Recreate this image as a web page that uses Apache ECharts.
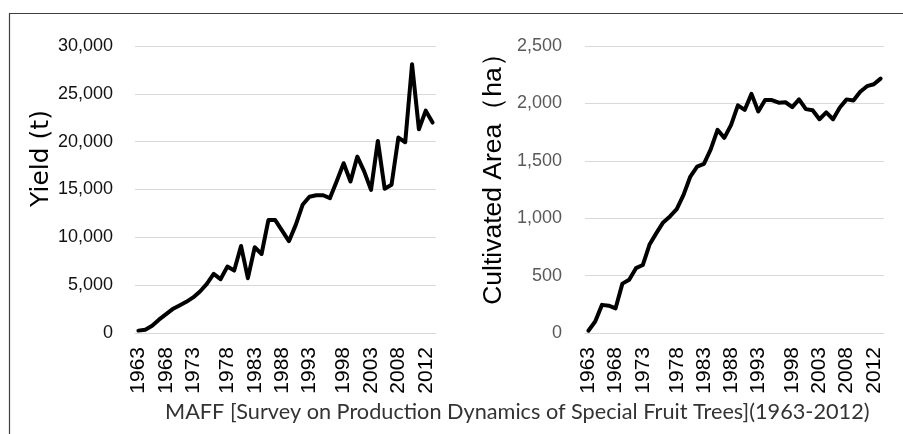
<!DOCTYPE html>
<html>
<head>
<meta charset="utf-8">
<script src="https://cdn.jsdelivr.net/npm/echarts@6/dist/echarts.min.js"></script>
<style>
html,body{margin:0;padding:0;background:#fff;}
#chart{width:903px;height:434px;}
</style>
</head>
<body>
<div id="chart"></div>
<script>
// Point order (survey points, evenly spaced on the category axis)
const pointIndex = Array.from({length: 44}, (_, i) => String(i + 1));
// Tick labels and the point positions they sit at
const tickLabels = ['1963','1968','1973','1978','1983','1988','1993','1998','2003','2008','2012'];
const tickIndex = [0, 4, 8, 13, 17, 21, 25, 30, 34, 38, 42];
// Yield (t)
const yieldValues = [250,350,760,1390,1940,2500,2880,3260,3720,4340,5140,6180,5625,6940,6530,9100,5730,8960,8260,11800,11800,10700,9600,11300,13400,14250,14400,14400,14100,15900,17750,15830,18440,16900,14960,20080,15070,15490,20430,19940,28100,21300,23240,22000];
// Cultivated area (ha)
const areaValues = [20,100,245,238,215,430,464,565,592,770,870,963,1015,1079,1203,1363,1450,1473,1600,1770,1700,1813,1983,1943,2083,1930,2029,2029,2006,2010,1968,2035,1950,1940,1862,1922,1862,1965,2035,2025,2101,2150,2167,2216];
const sourceText = 'MAFF [Survey on Production Dynamics of Special Fruit Trees](1963-2012)';

const chart = echarts.init(document.getElementById('chart'), null, {renderer: 'canvas'});

function xAxisFor(gridIndex) {
  return {
    type: 'category', gridIndex, data: pointIndex, boundaryGap: true,
    axisLine: {show: true, lineStyle: {color: '#d9d9d9', width: 1}},
    axisTick: {show: false},
    axisLabel: {
      rotate: 90, margin: 14, color: '#000',
      fontFamily: 'Liberation Sans', fontSize: 21, hideOverlap: false,
      interval: (idx) => tickIndex.includes(idx),
      formatter: (v, idx) => { const k = tickIndex.indexOf(idx); return k >= 0 ? tickLabels[k] : ''; }
    }
  };
}

chart.setOption({
  animation: false,
  grid: [
    {left: 135, top: 46, width: 301, height: 287},
    {left: 585, top: 46, width: 299, height: 287}
  ],
  xAxis: [xAxisFor(0), xAxisFor(1)],
  yAxis: [
    {
      type: 'value', gridIndex: 0, min: 0, max: 30000, interval: 5000,
      axisLine: {show: false}, axisTick: {show: false},
      splitLine: {lineStyle: {color: '#d9d9d9', width: 1}},
      axisLabel: {margin: 22, color: '#111', fontFamily: 'Liberation Sans', fontSize: 18},
      name: 'Yield (t)', nameLocation: 'middle', nameGap: 80, nameRotate: 90,
      nameTextStyle: {fontFamily: 'DejaVu Sans', fontSize: 25, color: '#000', padding: [0, 0, 0, 62]}
    },
    {
      type: 'value', gridIndex: 1, min: 0, max: 2500, interval: 500,
      axisLine: {show: false}, axisTick: {show: false},
      splitLine: {lineStyle: {color: '#d9d9d9', width: 1}},
      axisLabel: {margin: 23, color: '#595959', fontFamily: 'Liberation Sans', fontSize: 18},
      name: 'Cultivated Area（ha）', nameLocation: 'middle', nameGap: 78, nameRotate: 90,
      nameTextStyle: {fontFamily: 'Liberation Sans', fontSize: 26.5, color: '#000', padding: [0, 0, 0, 34]}
    }
  ],
  series: [
    {type: 'line', xAxisIndex: 0, yAxisIndex: 0, data: yieldValues, symbol: 'none',
     lineStyle: {color: '#000', width: 4, join: 'round', cap: 'round'}},
    {type: 'line', xAxisIndex: 1, yAxisIndex: 1, data: areaValues, symbol: 'none',
     lineStyle: {color: '#000', width: 4, join: 'round', cap: 'round'}}
  ],
  graphic: [
    {type: 'rect', shape: {x: 9.5, y: 13.5, width: 920, height: 440}, silent: true,
     style: {fill: 'none', stroke: '#404040', lineWidth: 1.2}},
    {type: 'text', left: 165, top: 401, silent: true,
     style: {text: sourceText, fontFamily: 'Lato', fontSize: 21.7, fill: '#333'}}
  ]
});
</script>
</body>
</html>
